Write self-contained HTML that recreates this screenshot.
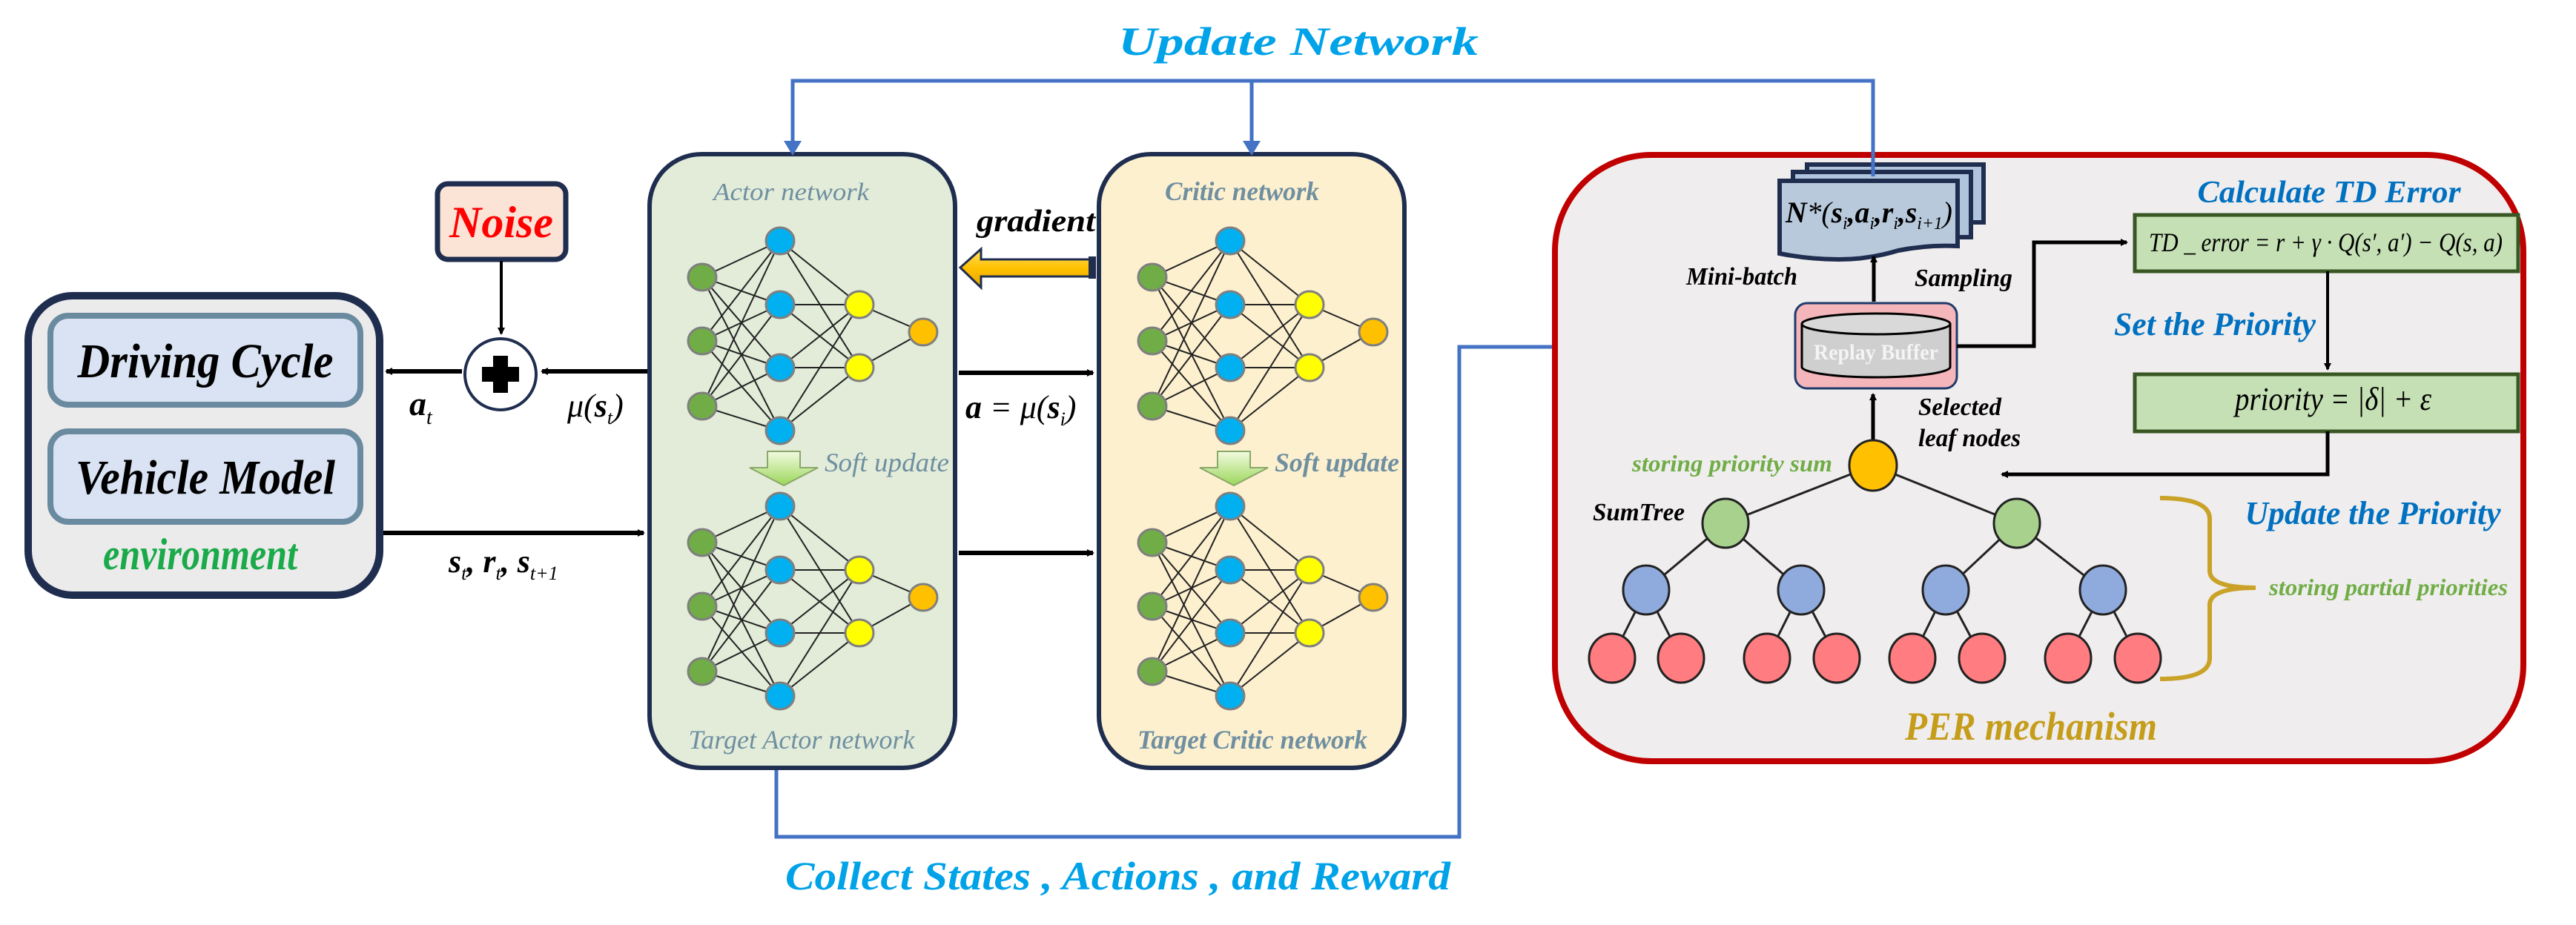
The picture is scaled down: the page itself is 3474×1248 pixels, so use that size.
<!DOCTYPE html>
<html><head><meta charset="utf-8">
<style>
html,body{margin:0;padding:0;background:#fff;}
svg{display:block;}
</style></head>
<body>
<svg width="3474" height="1248" viewBox="0 0 3474 1248" xmlns="http://www.w3.org/2000/svg" font-family="Liberation Serif, serif" font-style="italic" font-weight="bold">
<defs>
  <g id="net">
    <path fill="none" stroke="#222" stroke-width="2" d="M0 49L105 0M0 49L105 86M0 49L105 171M0 49L105 256M0 135L105 0M0 135L105 86M0 135L105 171M0 135L105 256M0 223L105 0M0 223L105 86M0 223L105 171M0 223L105 256M105 0L212 86M105 0L212 171M105 86L212 86M105 86L212 171M105 171L212 86M105 171L212 171M105 256L212 86M105 256L212 171M212 86L298 123M212 171L298 123"/>
    <g stroke="#7f7f7f" stroke-width="3">
      <ellipse cx="0" cy="49" rx="19" ry="18" fill="#70ad47"/>
      <ellipse cx="0" cy="135" rx="19" ry="18" fill="#70ad47"/>
      <ellipse cx="0" cy="223" rx="19" ry="18" fill="#70ad47"/>
      <ellipse cx="105" cy="0" rx="19" ry="18" fill="#00b0f0"/>
      <ellipse cx="105" cy="86" rx="19" ry="18" fill="#00b0f0"/>
      <ellipse cx="105" cy="171" rx="19" ry="18" fill="#00b0f0"/>
      <ellipse cx="105" cy="256" rx="19" ry="18" fill="#00b0f0"/>
      <ellipse cx="212" cy="86" rx="19" ry="18" fill="#ffff00"/>
      <ellipse cx="212" cy="171" rx="19" ry="18" fill="#ffff00"/>
      <ellipse cx="298" cy="123" rx="19" ry="18" fill="#ffc000"/>
    </g>
  </g>
  <linearGradient id="gsoft" x1="0" y1="0" x2="0" y2="1">
    <stop offset="0" stop-color="#f2fbe0"/><stop offset="1" stop-color="#9bd65a"/>
  </linearGradient>
  <linearGradient id="ggrad" x1="0" y1="0" x2="0" y2="1">
    <stop offset="0" stop-color="#ffe36a"/><stop offset="0.5" stop-color="#ffc000"/><stop offset="1" stop-color="#e6a800"/>
  </linearGradient>
  <g id="soft">
    <polygon points="-22,-20 22,-20 22,2 46,2 0,26 -46,2 -22,2" fill="url(#gsoft)" stroke="#8aa86a" stroke-width="2"/>
  </g>
  <marker id="ab" markerWidth="10" markerHeight="10" refX="8" refY="5" orient="auto" markerUnits="userSpaceOnUse" viewBox="0 0 10 10"><path d="M0 0L10 5L0 10z" fill="#000"/></marker>
</defs>

<!-- Environment -->
<rect x="38" y="399" width="474" height="404" rx="60" fill="#ebebeb" stroke="#1f2d4f" stroke-width="10"/>
<rect x="68" y="426" width="418" height="120" rx="24" fill="#dae3f3" stroke="#6a8aa0" stroke-width="8"/>
<rect x="68" y="582" width="418" height="122" rx="24" fill="#dae3f3" stroke="#6a8aa0" stroke-width="8"/>
<text x="277" y="509" font-size="66" text-anchor="middle" fill="#000" textLength="345" lengthAdjust="spacingAndGlyphs">Driving Cycle</text>
<text x="277" y="666" font-size="66" text-anchor="middle" fill="#000" textLength="350" lengthAdjust="spacingAndGlyphs">Vehicle Model</text>
<text x="270" y="768" font-size="60" text-anchor="middle" fill="#1aaa4a" textLength="262" lengthAdjust="spacingAndGlyphs">environment</text>

<!-- Noise -->
<rect x="590" y="248" width="173" height="102" rx="14" fill="#fbe3d6" stroke="#1f2d4f" stroke-width="7"/>
<text x="676" y="320" font-size="60" text-anchor="middle" fill="#ff0000" textLength="140" lengthAdjust="spacingAndGlyphs">Noise</text>
<line x1="676" y1="352" x2="676" y2="450" stroke="#000" stroke-width="4" marker-end="url(#ab)"/>
<circle cx="675" cy="505" r="48" fill="#fff" stroke="#1f2d4f" stroke-width="4"/>
<path d="M665 480h20v15h15v20h-15v15h-20v-15h-15v-20h15z" fill="#000"/>
<line x1="873" y1="501" x2="731" y2="501" stroke="#000" stroke-width="6" marker-end="url(#ab)"/>
<line x1="623" y1="501" x2="521" y2="501" stroke="#000" stroke-width="6" marker-end="url(#ab)"/>
<text x="552" y="560" font-size="46" fill="#000">a<tspan font-size="28" dy="12" font-weight="normal">t</tspan></text>
<text x="765" y="562" font-size="44" fill="#000" font-weight="normal">μ(<tspan font-weight="bold">s</tspan><tspan font-size="26" dy="10">t</tspan><tspan dy="-10">)</tspan></text>
<line x1="517" y1="719" x2="868" y2="719" stroke="#000" stroke-width="6" marker-end="url(#ab)"/>
<text x="605" y="772" font-size="44" fill="#000">s<tspan font-size="26" dy="10" font-weight="normal">t</tspan><tspan dy="-10">, r</tspan><tspan font-size="26" dy="10" font-weight="normal">t</tspan><tspan dy="-10">, s</tspan><tspan font-size="26" dy="10" font-weight="normal">t+1</tspan></text>

<!-- Actor -->
<rect x="876" y="208" width="412" height="828" rx="70" fill="#e2ecd9" stroke="#1f2d4f" stroke-width="6"/>
<text x="1067" y="270" font-size="34" text-anchor="middle" fill="#6f8fa0" font-weight="normal" textLength="210" lengthAdjust="spacingAndGlyphs">Actor network</text>
<text x="1081" y="1010" font-size="36" text-anchor="middle" fill="#6f8fa0" font-weight="normal" textLength="305" lengthAdjust="spacingAndGlyphs">Target Actor network</text>
<use href="#net" transform="translate(947,325)"/>
<use href="#net" transform="translate(947,683)"/>
<use href="#soft" transform="translate(1057,629)"/>
<text x="1196" y="636" font-size="36" text-anchor="middle" fill="#6f8fa0" font-weight="normal" textLength="168" lengthAdjust="spacingAndGlyphs">Soft update</text>

<!-- Critic -->
<rect x="1482" y="208" width="412" height="828" rx="70" fill="#fdf0cf" stroke="#1f2d4f" stroke-width="6"/>
<text x="1675" y="270" font-size="36" text-anchor="middle" fill="#6f8fa0" textLength="208" lengthAdjust="spacingAndGlyphs">Critic network</text>
<text x="1689" y="1010" font-size="36" text-anchor="middle" fill="#6f8fa0" textLength="310" lengthAdjust="spacingAndGlyphs">Target Critic network</text>
<use href="#net" transform="translate(1554,325)"/>
<use href="#net" transform="translate(1554,683)"/>
<use href="#soft" transform="translate(1664,629)"/>
<text x="1803" y="636" font-size="36" text-anchor="middle" fill="#6f8fa0" textLength="168" lengthAdjust="spacingAndGlyphs">Soft update</text>

<!-- gradient arrow -->
<polygon points="1295,361 1323,336 1323,350 1476,350 1476,373 1323,373 1323,388" fill="url(#ggrad)" stroke="#1f2d4f" stroke-width="3"/>
<rect x="1468" y="346" width="10" height="30" fill="#1f2d4f"/>
<text x="1397" y="312" font-size="42" text-anchor="middle" fill="#000" textLength="160" lengthAdjust="spacingAndGlyphs">gradient</text>
<line x1="1293" y1="503" x2="1474" y2="503" stroke="#000" stroke-width="6" marker-end="url(#ab)"/>
<line x1="1293" y1="746" x2="1474" y2="746" stroke="#000" stroke-width="6" marker-end="url(#ab)"/>
<text x="1302" y="564" font-size="44" fill="#000">a <tspan font-weight="normal">= μ(</tspan>s<tspan font-size="26" dy="10" font-weight="normal">i</tspan><tspan dy="-10" font-weight="normal">)</tspan></text>

<!-- Update network line -->
<path d="M1069 195V109H2526V238" fill="none" stroke="#4472c4" stroke-width="5"/>
<polygon points="1057,190 1081,190 1069,210" fill="#4472c4"/>
<line x1="1688" y1="109" x2="1688" y2="195" stroke="#4472c4" stroke-width="5"/>
<polygon points="1676,190 1700,190 1688,210" fill="#4472c4"/>
<text x="1508" y="74" font-size="54" fill="#00a2e8" textLength="486" lengthAdjust="spacingAndGlyphs">Update Network</text>

<!-- Collect line -->
<path d="M1047 1039V1129H1968V468H2400" fill="none" stroke="#4472c4" stroke-width="5"/>
<polygon points="2396,456 2418,468 2396,480" fill="#4472c4"/>
<text x="1059" y="1200" font-size="54" fill="#00a2e8" textLength="897" lengthAdjust="spacingAndGlyphs">Collect States , Actions , and Reward</text>

<!-- PER box -->
<rect x="2097" y="209" width="1306" height="818" rx="130" fill="#efeded" stroke="#c00000" stroke-width="8"/>

<!-- minibatch docs -->
<path d="M2437 222H2675V300H2437Z" fill="#b0c4de" stroke="#1f2d4f" stroke-width="6"/>
<path d="M2418 232H2658V320H2418Z" fill="#b0c4de" stroke="#1f2d4f" stroke-width="6"/>
<path d="M2400 244H2640V332Q2600 330 2560 338Q2520 350 2480 350Q2440 350 2400 342Z" fill="#b8c9dc" stroke="#1f2d4f" stroke-width="6"/>
<line x1="2526" y1="200" x2="2526" y2="238" stroke="#4472c4" stroke-width="5"/>
<text x="2408" y="300" font-size="40" fill="#000" textLength="225" lengthAdjust="spacingAndGlyphs">N<tspan font-weight="normal">*(</tspan>s<tspan font-size="24" dy="9" font-weight="normal">i</tspan><tspan dy="-9">,a</tspan><tspan font-size="24" dy="9" font-weight="normal">i</tspan><tspan dy="-9">,r</tspan><tspan font-size="24" dy="9" font-weight="normal">i</tspan><tspan dy="-9">,s</tspan><tspan font-size="24" dy="9" font-weight="normal">i+1</tspan><tspan dy="-9" font-weight="normal">)</tspan></text>
<text x="2349" y="384" font-size="34" text-anchor="middle" fill="#000" textLength="150" lengthAdjust="spacingAndGlyphs">Mini-batch</text>
<text x="2648" y="386" font-size="34" text-anchor="middle" fill="#000" textLength="132" lengthAdjust="spacingAndGlyphs">Sampling</text>
<line x1="2527" y1="407" x2="2527" y2="346" stroke="#000" stroke-width="5" marker-end="url(#ab)"/>

<!-- Replay buffer -->
<rect x="2421" y="409" width="218" height="115" rx="16" fill="#f4b6ba" stroke="#1f3a6a" stroke-width="3"/>
<path d="M2430 437V495A100 14 0 0 0 2630 495V437" fill="#cfcfcf" stroke="#000" stroke-width="3"/>
<ellipse cx="2530" cy="437" rx="100" ry="14" fill="#d9d9d9" stroke="#000" stroke-width="3"/>
<text x="2530" y="485" font-size="30" text-anchor="middle" fill="#f4f4f4" font-style="normal" textLength="168" lengthAdjust="spacingAndGlyphs">Replay Buffer</text>

<!-- TD -->
<path d="M2639 467H2743V327H2868" fill="none" stroke="#000" stroke-width="5" marker-end="url(#ab)"/>
<rect x="2879" y="290" width="517" height="76" fill="#c5e0b4" stroke="#385723" stroke-width="5"/>
<text x="2898" y="339" font-size="36" fill="#000" font-weight="normal" textLength="477" lengthAdjust="spacingAndGlyphs">TD _ error = r + γ · Q(s′, a′) − Q(s, a)</text>
<text x="3141" y="273" font-size="42" text-anchor="middle" fill="#0070c0" textLength="355" lengthAdjust="spacingAndGlyphs">Calculate TD Error</text>
<line x1="3139" y1="366" x2="3139" y2="498" stroke="#000" stroke-width="4" marker-end="url(#ab)"/>
<text x="2987" y="452" font-size="44" text-anchor="middle" fill="#0070c0" textLength="272" lengthAdjust="spacingAndGlyphs">Set the Priority</text>
<rect x="2879" y="505" width="517" height="77" fill="#c5e0b4" stroke="#385723" stroke-width="5"/>
<text x="3014" y="553" font-size="44" fill="#000" font-weight="normal" textLength="265" lengthAdjust="spacingAndGlyphs">priority = |δ| + ε</text>
<path d="M3139 582V640H2700" fill="none" stroke="#000" stroke-width="5" marker-end="url(#ab)"/>
<text x="3200" y="707" font-size="44" text-anchor="middle" fill="#0070c0" textLength="345" lengthAdjust="spacingAndGlyphs">Update the Priority</text>

<!-- Tree -->
<line x1="2526" y1="594" x2="2526" y2="532" stroke="#000" stroke-width="5" marker-end="url(#ab)"/>
<text x="2587" y="560" font-size="34" fill="#000" textLength="112" lengthAdjust="spacingAndGlyphs">Selected</text>
<text x="2587" y="602" font-size="34" fill="#000" textLength="138" lengthAdjust="spacingAndGlyphs">leaf nodes</text>
<text x="2336" y="636" font-size="32" text-anchor="middle" fill="#70ad47" textLength="270" lengthAdjust="spacingAndGlyphs">storing priority sum</text>
<text x="2210" y="702" font-size="34" text-anchor="middle" fill="#000" textLength="124" lengthAdjust="spacingAndGlyphs">SumTree</text>
<path fill="none" stroke="#222" stroke-width="3" d="M2526 628L2327 706M2526 628L2720 706M2327 706L2220 796M2327 706L2429 796M2720 706L2624 796M2720 706L2836 796M2220 796L2174 888M2220 796L2267 888M2429 796L2383 888M2429 796L2477 888M2624 796L2579 888M2624 796L2673 888M2836 796L2789 888M2836 796L2883 888"/>
<ellipse cx="2526" cy="628" rx="32" ry="34" fill="#ffc000" stroke="#222" stroke-width="3"/>
<g stroke="#222" stroke-width="3">
<ellipse cx="2327" cy="706" rx="31" ry="33" fill="#a9d18e"/>
<ellipse cx="2720" cy="706" rx="31" ry="33" fill="#a9d18e"/>
<ellipse cx="2220" cy="796" rx="31" ry="33" fill="#8faadc"/>
<ellipse cx="2429" cy="796" rx="31" ry="33" fill="#8faadc"/>
<ellipse cx="2624" cy="796" rx="31" ry="33" fill="#8faadc"/>
<ellipse cx="2836" cy="796" rx="31" ry="33" fill="#8faadc"/>
<ellipse cx="2174" cy="888" rx="31" ry="33" fill="#ff7c80"/>
<ellipse cx="2267" cy="888" rx="31" ry="33" fill="#ff7c80"/>
<ellipse cx="2383" cy="888" rx="31" ry="33" fill="#ff7c80"/>
<ellipse cx="2477" cy="888" rx="31" ry="33" fill="#ff7c80"/>
<ellipse cx="2579" cy="888" rx="31" ry="33" fill="#ff7c80"/>
<ellipse cx="2673" cy="888" rx="31" ry="33" fill="#ff7c80"/>
<ellipse cx="2789" cy="888" rx="31" ry="33" fill="#ff7c80"/>
<ellipse cx="2883" cy="888" rx="31" ry="33" fill="#ff7c80"/>
</g>
<path d="M2913 672Q2980 672 2980 700V770Q2980 793 3042 793Q2980 793 2980 816V888Q2980 916 2913 916" fill="none" stroke="#c9a227" stroke-width="6"/>
<text x="3060" y="803" font-size="32" fill="#70ad47" textLength="322" lengthAdjust="spacingAndGlyphs">storing partial priorities</text>
<text x="2739" y="998" font-size="54" text-anchor="middle" fill="#c59d1a" textLength="340" lengthAdjust="spacingAndGlyphs">PER mechanism</text>
</svg>
</body></html>
